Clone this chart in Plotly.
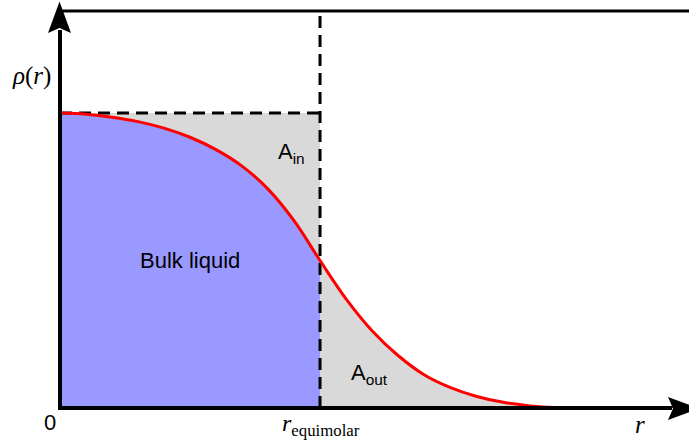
import plotly.graph_objects as go

# Density profile rho(r) of a droplet, normalised to the bulk liquid density
r_vals = [0.0, 0.1, 0.2, 0.3, 0.4, 0.5, 0.6, 0.7, 0.8, 0.9, 1.0,
          1.1, 1.2, 1.3, 1.4, 1.5, 1.6, 1.7, 1.8, 1.9, 2.0, 2.419]
rho_vals = [1.0, 0.996, 0.986, 0.971, 0.949, 0.918, 0.876, 0.820, 0.742,
            0.635, 0.5, 0.370, 0.262, 0.178, 0.113, 0.070, 0.040, 0.020,
            0.008, 0.002, 0.0, 0.0]

r_equimolar = 1.0      # equimolar dividing radius
rho_liquid = 1.0       # bulk liquid density
r_max = 2.419
rho_top = 1.346

# figure geometry (pixels)
W, H = 689, 441
L, R, T, B = 60, 0, 11, 33
PW, PH = W - L - R, H - T - B


def px(x):
    return (x - L) / PW


def py(y):
    return (H - B - y) / PH


BLUE = "#9999FF"
GRAY = "#D9D9D9"

inner_r = [r for r in r_vals if r <= r_equimolar]
inner_rho = rho_vals[:len(inner_r)]
outer_r = [r for r in r_vals if r >= r_equimolar]
outer_rho = rho_vals[len(r_vals) - len(outer_r):]

fig = go.Figure()

# gray areas: tail outside the dividing surface and the deficit inside it
fig.add_trace(go.Scatter(x=outer_r, y=outer_rho, mode="lines", fill="tozeroy",
                         fillcolor=GRAY, line=dict(width=0, shape="spline"),
                         hoverinfo="skip"))
fig.add_trace(go.Scatter(x=[0, r_equimolar, r_equimolar, 0, 0],
                         y=[0, 0, rho_liquid, rho_liquid, 0],
                         mode="lines", fill="toself", fillcolor=GRAY,
                         line=dict(width=0), hoverinfo="skip"))
# bulk liquid region under the profile
fig.add_trace(go.Scatter(x=inner_r, y=inner_rho, mode="lines", fill="tozeroy",
                         fillcolor=BLUE, line=dict(width=0, shape="spline"),
                         hoverinfo="skip"))
# dashed guides
fig.add_trace(go.Scatter(x=[0, r_equimolar], y=[rho_liquid, rho_liquid],
                         mode="lines",
                         line=dict(color="black", width=3, dash="12px,7px"),
                         hoverinfo="skip"))
fig.add_trace(go.Scatter(x=[r_equimolar, r_equimolar], y=[0, rho_top],
                         mode="lines",
                         line=dict(color="black", width=3, dash="12px,7px"),
                         hoverinfo="skip"))
# the profile itself
fig.add_trace(go.Scatter(x=r_vals, y=rho_vals, mode="lines",
                         line=dict(color="#FF0000", width=3, shape="spline"),
                         hoverinfo="skip"))

shapes = [
    # y axis
    dict(type="line", xref="paper", yref="paper", x0=px(60), x1=px(60),
         y0=py(410), y1=py(30), line=dict(color="black", width=4)),
    # x axis
    dict(type="line", xref="paper", yref="paper", x0=px(58), x1=px(672),
         y0=py(408), y1=py(408), line=dict(color="black", width=4)),
    # top border
    dict(type="line", xref="paper", yref="paper", x0=px(61), x1=px(689),
         y0=py(11), y1=py(11), line=dict(color="black", width=3)),
    # arrow heads
    dict(type="path", xref="paper", yref="paper", fillcolor="black",
         line=dict(width=0),
         path=(f"M {px(59.5)} {py(1.5)} L {px(48)} {py(33)} "
               f"L {px(59.5)} {py(28)} L {px(71)} {py(33)} Z")),
    dict(type="path", xref="paper", yref="paper", fillcolor="black",
         line=dict(width=0),
         path=(f"M {px(699)} {py(408.5)} L {px(668)} {py(397)} "
               f"L {px(673)} {py(408.5)} L {px(668)} {py(420)} Z")),
]

SANS = "Liberation Sans"
SERIF = "Liberation Serif"


def label(x, y, text, family, size, ref, yanchor="middle"):
    return dict(x=x, y=y, xref=ref[0], yref=ref[1], text=text,
                xanchor="center", yanchor=yanchor, showarrow=False,
                font=dict(family=family, size=size, color="black"))


annotations = [
    label(0.5, 0.5, "Bulk liquid", SANS, 22, ("x", "y")),
    label(0.89, 0.865, "A<sub>in</sub>", SANS, 22, ("x", "y")),
    label(1.19, 0.115, "A<sub>out</sub>", SANS, 22, ("x", "y")),
    label(px(49.5), py(422), "0", SANS, 22, ("paper", "paper")),
    label(px(31), py(76), "<i>ρ</i>(<i>r</i>)", SERIF, 25, ("paper", "paper")),
    label(px(640), py(440), "<i>r</i>", SERIF, 25, ("paper", "paper"),
          yanchor="bottom"),
    label(px(321), py(425), "<i>r</i><sub>equimolar</sub>", SERIF, 24,
          ("paper", "paper")),
]

axis_common = dict(showgrid=False, zeroline=False, showticklabels=False,
                   showline=False, ticks="", fixedrange=True)

fig.update_layout(
    width=W, height=H,
    margin=dict(l=L, r=R, t=T, b=B, pad=0),
    paper_bgcolor="white", plot_bgcolor="white",
    showlegend=False,
    xaxis=dict(range=[0, r_max], **axis_common),
    yaxis=dict(range=[0, rho_top], **axis_common),
    shapes=shapes,
    annotations=annotations,
)

fig.write_html("out.html")
